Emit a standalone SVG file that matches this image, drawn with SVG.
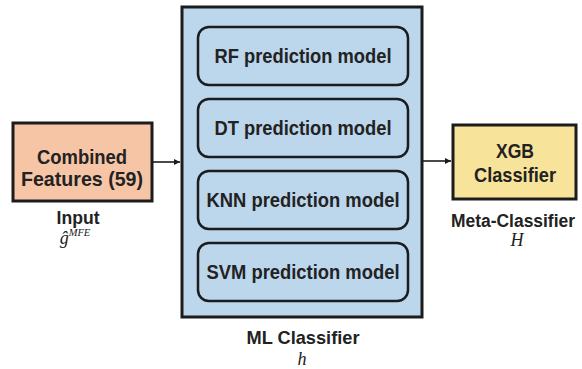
<svg xmlns="http://www.w3.org/2000/svg" width="582" height="369" viewBox="0 0 582 369">
<style>
.lbl{font-family:"Liberation Sans",Arial,sans-serif;font-weight:bold;fill:#222;text-anchor:middle}
.big{font-size:20.5px}
.cap{font-size:19px}
.math{font-family:"Liberation Serif","Times New Roman",serif;font-style:italic;fill:#222;text-anchor:middle;font-size:18px}
.box{stroke:#1c1c1c;stroke-width:3}
.inner{fill:#bcd6ec;stroke:#1c1c1c;stroke-width:2.5}
.conn{stroke:#1c1c1c;stroke-width:1.6;fill:none}
</style>
<defs>
<marker id="ah" viewBox="0 0 10 10" refX="10" refY="5" markerWidth="6" markerHeight="6" orient="auto" markerUnits="userSpaceOnUse">
<path d="M0,0 L10,5 L0,10 z" fill="#1c1c1c"/>
</marker>
</defs>
<rect width="582" height="369" fill="#fff"/>
<g id="input">
<rect class="box" x="13" y="123" width="139" height="78" fill="#f6c5a6"/>
<text class="lbl big" x="82" y="164" textLength="90" lengthAdjust="spacingAndGlyphs">Combined</text>
<text class="lbl big" x="82" y="186" textLength="122" lengthAdjust="spacingAndGlyphs">Features (59)</text>
<text class="lbl cap" x="78" y="224" textLength="43" lengthAdjust="spacingAndGlyphs">Input</text>
<text class="math" x="75" y="244">ĝ<tspan font-size="10.5" dy="-8">MFE</tspan></text>
</g>
<g id="ml-classifier">
<rect class="box" x="182" y="7" width="240" height="310" fill="#bcd6ec" stroke-width="2.5"/>
<text class="lbl cap" x="303" y="344" textLength="113" lengthAdjust="spacingAndGlyphs">ML Classifier</text>
<text class="math" x="302" y="365" font-size="17">h</text>
</g>
<g id="rf">
<rect class="inner" x="198" y="27" width="210" height="58" rx="11"/>
<text class="lbl big" x="303" y="63" textLength="177" lengthAdjust="spacingAndGlyphs">RF prediction model</text>
</g>
<g id="dt">
<rect class="inner" x="198" y="99" width="210" height="58" rx="11"/>
<text class="lbl big" x="303" y="135" textLength="177" lengthAdjust="spacingAndGlyphs">DT prediction model</text>
</g>
<g id="knn">
<rect class="inner" x="198" y="171" width="210" height="58" rx="11"/>
<text class="lbl big" x="303" y="207" textLength="193" lengthAdjust="spacingAndGlyphs">KNN prediction model</text>
</g>
<g id="svm">
<rect class="inner" x="198" y="243" width="210" height="58" rx="11"/>
<text class="lbl big" x="303" y="279" textLength="193" lengthAdjust="spacingAndGlyphs">SVM prediction model</text>
</g>
<g id="xgb">
<rect class="box" x="453" y="125" width="123" height="74" fill="#f8e39b"/>
<text class="lbl big" x="515" y="158" textLength="38" lengthAdjust="spacingAndGlyphs">XGB</text>
<text class="lbl big" x="515" y="182" textLength="82" lengthAdjust="spacingAndGlyphs">Classifier</text>
<text class="lbl" x="513" y="227" font-size="18" textLength="124" lengthAdjust="spacingAndGlyphs">Meta-Classifier</text>
<text class="math" x="517" y="246">H</text>
</g>
<g id="connectors">
<line class="conn" x1="152" y1="162" x2="180" y2="162" marker-end="url(#ah)"/>
<line class="conn" x1="423" y1="161" x2="451" y2="161" marker-end="url(#ah)"/>
</g>
</svg>
